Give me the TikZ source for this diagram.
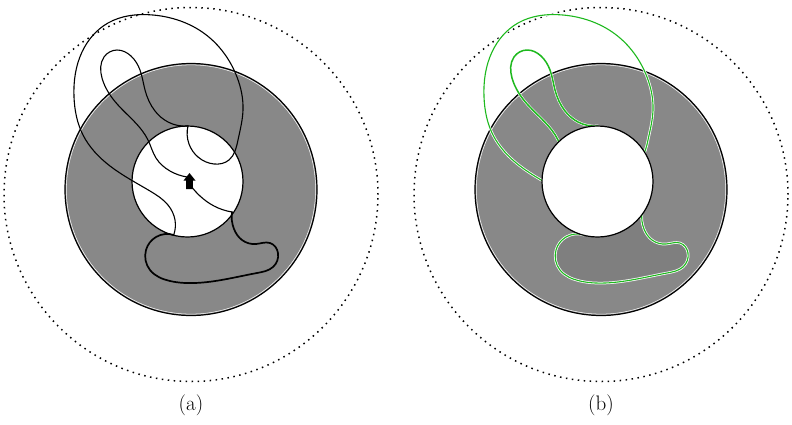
\documentclass[tikz,border=0pt]{standalone}
\usetikzlibrary{hobby}
\definecolor{ringgray}{RGB}{136,136,136}
\definecolor{blobgray}{RGB}{127,127,127}
\definecolor{lgreen}{RGB}{30,185,30}
\newcommand{\segA}[1]{\draw[#1] (187,177) to[curve through={(170,171) (156,158) (148,140) (118,105) (102,78) (104,57) (117,50) (131,56) (140,70) (145,90) (155,111) (168,122)}] (188,126);}
\newcommand{\segB}[1]{\draw[#1] (188,126) to[curve through={(189,144) (198,157) (214,164) (229,160) (238,140) (243,110) (237,77) (205,34) (153,15) (108,23) (82,52) (74,97) (83,135) (110,166) (150,191) (168,205) (175,220)}] (174,234);}
\newcommand{\segC}[1]{\draw[#1] (174,235) to[curve through={(156,237) (146,250) (150,270) (170,281) (195,283) (257,273) (273,267) (278,253) (270,243) (256,244) (242,240) (234,229)}] (232,212);}
\newcommand{\segD}[1]{\draw[#1] (232,212) to[curve through={(214,206) (200,196)}] (191,186);}
\begin{document}
\begin{tikzpicture}[x=1pt,y=-1pt,
  dotring/.style={line width=1.5pt,dash pattern=on 1.5pt off 4.5pt},
  ringfill/.style={fill=ringgray,draw=black,line width=1.2pt},
  holefill/.style={fill=white,draw=black,line width=1.2pt},
  curveline/.style={line width=1.1pt,line cap=round,line join=round},
  blobline/.style={line width=1.7pt,line cap=round,line join=round},
  casing/.style={white,line width=2.6pt,line cap=round,line join=round},
  greenline/.style={lgreen,line width=1.1pt,line cap=round,line join=round},
  greenthick/.style={lgreen,line width=1.5pt,line cap=round,line join=round},
  lab/.style={font=\fontsize{21}{25}\selectfont}]
\useasboundingbox (0,0) rectangle (792,424);
% ---------- panel (a) ----------
\draw[dotring] (191,194.5) circle[radius=187pt];
\draw[ringfill] (191,189.5) circle[radius=126pt];
\draw[white,line width=0.5pt] (191,189.5) circle[radius=124.6pt];
\draw[holefill] (187.5,181.5) circle[radius=55.5pt];
\segA{curveline}
\segB{curveline}
\segC{blobline}
\segD{curveline}
\fill (189.5,173) -- (195.5,180.5) -- (192.8,180.5) -- (192.8,189) -- (186.2,189) -- (186.2,180.5) -- (183.5,180.5) -- cycle;
\node[lab] (la) at (191,405) {(a)};
% ---------- panel (b) ----------
\begin{scope}[shift={(410,0)}]
\draw[dotring] (191,194.5) circle[radius=187pt];
\draw[ringfill] (191,189.5) circle[radius=126pt];
\draw[white,line width=0.5pt] (191,189.5) circle[radius=124.6pt];
\fill[blobgray] (174,235) to[curve through={(156,237) (146,250) (150,270) (170,281) (195,283) (257,273) (273,267) (278,253) (270,243) (256,244) (242,240) (234,229)}] (232,212) -- cycle;
\segA{casing}
\segB{casing}
\segC{casing}
\segD{casing}
\segA{greenthick}
\segB{greenline}
\segC{greenline}
\segD{greenline}
\draw[holefill] (187.5,181.5) circle[radius=55.5pt];
\node[lab] (lb) at (191,405) {(b)};
\end{scope}
\end{tikzpicture}
\end{document}
